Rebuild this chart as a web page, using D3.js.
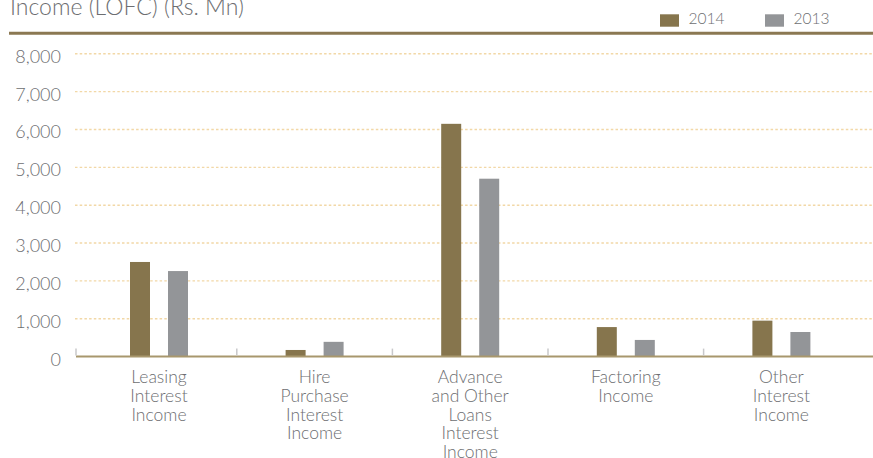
<!DOCTYPE html>
<html>
<head>
<meta charset="utf-8">
<script src="https://cdn.jsdelivr.net/npm/d3@7"></script>
<style>
  html, body { margin: 0; padding: 0; background: #ffffff; }
  svg { display: block; font-family: Lato, "Open Sans", sans-serif; }
</style>
</head>
<body>
<svg id="chart" width="873" height="458"></svg>
<script>
// Interest income by product, Rs. Mn
const categories = [
  ["Leasing", "Interest", "Income"],
  ["Hire", "Purchase", "Interest", "Income"],
  ["Advance", "and Other", "Loans", "Interest", "Income"],
  ["Factoring", "Income"],
  ["Other", "Interest", "Income"]
];
const seriesNames = ["2014", "2013"];
const values2014 = [2500, 175, 6150, 780, 950];
const values2013 = [2260, 390, 4700, 440, 650];
const yTicks = [0, 1000, 2000, 3000, 4000, 5000, 6000, 7000, 8000];
const titleText = "Income (LOFC) (Rs. Mn)";

const colors = { "2014": "#86754d", "2013": "#939598" };
const textGrey = "#6d6e71";

const svg = d3.select("#chart");
const keys = categories.map(c => c.join(" "));
const rows = keys.map((k, i) => ({ key: k, lines: categories[i], "2014": values2014[i], "2013": values2013[i] }));

const y = d3.scaleLinear().domain([0, 8000]).range([356.6, 53.8]);
const x = d3.scaleBand().domain(keys).range([81.2, 859.2]).padding(0);
const x1 = d3.scaleBand().domain(seriesNames).range([0, 58]).paddingInner(18 / 38).paddingOuter(0);
const groupOffset = (x.bandwidth() - 58) / 2;

// title
svg.append("text")
  .attr("x", 10).attr("y", 15)
  .attr("font-size", 23).attr("font-weight", 300)
  .attr("fill", textGrey)
  .text(titleText);

// legend
const legendX = { "2014": 660, "2013": 765 };
const legend = svg.append("g");
seriesNames.forEach(s => {
  legend.append("rect")
    .attr("x", legendX[s]).attr("y", 14.3)
    .attr("width", 19).attr("height", 12.4)
    .attr("fill", colors[s]);
  legend.append("text")
    .attr("x", legendX[s] + 28.5).attr("y", 24.3)
    .attr("font-size", 15.5).attr("font-weight", 300)
    .attr("fill", textGrey)
    .text(s);
});

// top rule
svg.append("line")
  .attr("x1", 9).attr("x2", 873)
  .attr("y1", 33.3).attr("y2", 33.3)
  .attr("stroke", "#8b7852").attr("stroke-width", 3);

// dotted gridlines
svg.append("g")
  .selectAll("line")
  .data(yTicks.filter(t => t > 0))
  .join("line")
  .attr("x1", 75).attr("x2", 873)
  .attr("y1", d => y(d)).attr("y2", d => y(d))
  .attr("stroke", "#f2d8a6").attr("stroke-width", 1.4)
  .attr("stroke-dasharray", "2.5,2.2");

// y axis labels
const yAxis = d3.axisLeft(y).tickValues(yTicks).tickSize(0).tickPadding(0)
  .tickFormat(d3.format(","));
const gy = svg.append("g").attr("transform", "translate(61,0)").call(yAxis);
gy.select(".domain").remove();
gy.selectAll("text")
  .attr("font-family", "Lato, 'Open Sans', sans-serif")
  .attr("font-size", 18).attr("font-weight", 300)
  .attr("fill", textGrey)
  .attr("dy", "0.47em");

// bars
const groups = svg.append("g")
  .selectAll("g")
  .data(rows)
  .join("g")
  .attr("transform", d => `translate(${x(d.key) + groupOffset},0)`);
groups.selectAll("rect")
  .data(d => seriesNames.map(s => ({ s, v: d[s] })))
  .join("rect")
  .attr("x", d => x1(d.s))
  .attr("width", x1.bandwidth())
  .attr("y", d => y(d.v))
  .attr("height", d => y(0) - y(d.v))
  .attr("fill", d => colors[d.s]);

// category axis line
svg.append("line")
  .attr("x1", 76).attr("x2", 873)
  .attr("y1", y(0)).attr("y2", y(0))
  .attr("stroke", "#a8976d").attr("stroke-width", 2);

// category separators
const sepX = [76].concat(keys.slice(1).map(k => x(k)));
svg.append("g")
  .selectAll("line")
  .data(sepX)
  .join("line")
  .attr("x1", d => d).attr("x2", d => d)
  .attr("y1", y(0) - 8).attr("y2", y(0) - 1)
  .attr("stroke", "#c8c8ca").attr("stroke-width", 1.5);

// category labels
const labels = svg.append("g")
  .selectAll("text")
  .data(rows)
  .join("text")
  .attr("text-anchor", "middle")
  .attr("font-size", 17.5).attr("font-weight", 300)
  .attr("fill", textGrey)
  .attr("transform", d => `translate(${x(d.key) + x.bandwidth() / 2},383.3)`);
labels.selectAll("tspan")
  .data(d => d.lines)
  .join("tspan")
  .attr("x", 0)
  .attr("y", (d, i) => i * 18.7)
  .text(d => d);
</script>
</body>
</html>
